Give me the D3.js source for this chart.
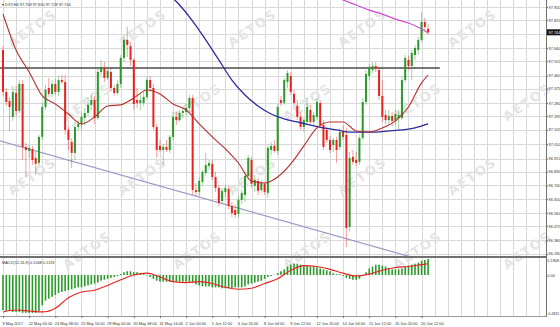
<!DOCTYPE html>
<html>
<head>
<meta charset="utf-8">
<script src="https://cdn.jsdelivr.net/npm/d3@7"></script>
<style>
body { margin: 0; background: #fff; }
svg { display: block; font-family: "Liberation Sans", sans-serif; }
</style>
</head>
<body>
<div id="chart"></div>
<script>
// DXY H4 candles (bar index = position in the arrays)
var opens = [97.628,97.353,97.294,97.189,97.346,97.228,97.405,96.992,96.966,96.979,
  96.920,96.887,97.058,97.254,97.379,97.340,97.405,97.353,97.431,97.418,
  97.104,97.025,96.953,97.123,97.143,97.182,97.215,97.268,97.300,97.182,
  97.484,97.510,97.445,97.484,97.379,97.346,97.405,97.576,97.694,97.654,
  97.563,97.300,97.281,97.281,97.320,97.431,97.379,97.123,96.999,96.972,
  96.992,96.972,97.058,97.189,97.169,97.215,97.222,97.248,97.313,96.710,
  96.697,96.763,96.822,96.868,96.881,96.795,96.723,96.638,96.697,96.717,
  96.605,96.579,96.553,96.645,96.677,96.802,96.907,96.736,96.769,96.710,
  96.750,96.691,96.972,96.999,96.966,97.300,97.281,97.418,97.458,97.340,
  97.261,97.189,97.123,97.156,97.235,97.156,97.189,97.281,97.136,97.104,
  97.038,97.005,97.038,96.992,97.090,97.071,96.468,96.927,96.907,96.894,
  97.051,97.287,97.458,97.497,97.523,97.497,97.327,97.202,97.169,97.195,
  97.163,97.182,97.182,97.431,97.563,97.523,97.595,97.628,97.694,97.812,
  97.768];
var highs = [97.654,97.379,97.320,97.392,97.392,97.431,97.431,97.018,97.005,96.999,
  96.959,97.071,97.281,97.399,97.445,97.431,97.438,97.458,97.464,97.464,
  97.123,97.051,97.156,97.169,97.215,97.248,97.320,97.333,97.327,97.510,
  97.563,97.549,97.510,97.510,97.399,97.431,97.595,97.727,97.779,97.681,
  97.576,97.379,97.340,97.353,97.451,97.458,97.405,97.143,97.038,97.012,
  97.038,97.071,97.222,97.222,97.235,97.248,97.274,97.333,97.333,96.756,
  96.789,96.841,96.953,96.907,96.907,96.828,96.743,96.723,96.743,96.736,
  96.631,96.612,96.671,96.710,96.828,96.940,96.927,96.808,96.789,96.776,
  96.763,97.005,97.025,97.038,97.274,97.327,97.445,97.497,97.484,97.366,
  97.300,97.222,97.182,97.313,97.268,97.222,97.313,97.300,97.169,97.123,
  97.064,97.051,97.058,97.117,97.136,97.117,96.959,96.972,96.959,97.071,
  97.313,97.497,97.536,97.549,97.549,97.517,97.431,97.235,97.235,97.222,
  97.235,97.235,97.458,97.595,97.589,97.628,97.661,97.713,97.877,97.838,
  97.800];
var lows = [97.327,97.261,97.097,97.163,97.195,97.215,96.907,96.795,96.920,96.874,
  96.808,96.868,97.038,97.235,97.320,97.320,97.333,97.327,97.405,97.071,
  96.972,96.854,96.907,97.097,97.104,97.136,97.195,97.235,97.143,97.169,
  97.458,97.418,97.431,97.353,97.327,97.333,97.379,97.549,97.582,97.523,
  97.235,97.248,97.235,97.261,97.307,97.353,97.104,96.920,96.959,96.874,
  96.959,96.953,97.038,97.136,97.156,97.182,97.202,97.222,96.677,96.671,
  96.671,96.743,96.802,96.841,96.776,96.697,96.605,96.618,96.658,96.586,
  96.533,96.527,96.527,96.618,96.631,96.776,96.723,96.697,96.677,96.691,
  96.677,96.658,96.940,96.953,96.940,97.261,97.268,97.379,97.333,97.268,
  97.169,97.104,97.090,97.136,97.143,97.130,97.169,97.117,96.972,97.018,
  96.953,96.959,96.887,96.972,97.038,96.336,96.435,96.874,96.868,96.874,
  97.038,97.268,97.431,97.477,97.484,97.300,97.156,97.143,97.143,97.130,
  97.136,97.104,97.169,97.418,97.497,97.431,97.563,97.595,97.681,97.759,
  97.728];
var closes = [97.353,97.287,97.254,97.353,97.228,97.405,96.992,96.972,96.986,96.907,
  96.881,97.058,97.254,97.366,97.340,97.405,97.353,97.431,97.418,97.104,
  97.038,96.953,97.123,97.143,97.189,97.215,97.268,97.300,97.182,97.484,
  97.517,97.445,97.490,97.379,97.346,97.405,97.576,97.694,97.661,97.563,
  97.274,97.281,97.300,97.320,97.431,97.379,97.123,96.972,96.972,96.992,
  96.972,97.058,97.189,97.169,97.215,97.228,97.248,97.313,96.710,96.697,
  96.769,96.828,96.874,96.887,96.795,96.723,96.625,96.704,96.723,96.605,
  96.559,96.546,96.645,96.691,96.802,96.920,96.750,96.776,96.704,96.756,
  96.697,96.986,96.999,96.966,97.254,97.281,97.431,97.477,97.353,97.281,
  97.189,97.123,97.169,97.254,97.156,97.202,97.287,97.136,96.992,97.038,
  96.972,97.038,96.972,97.090,97.058,96.461,96.920,96.894,96.887,97.051,
  97.287,97.471,97.510,97.523,97.504,97.327,97.189,97.169,97.195,97.163,
  97.208,97.202,97.431,97.576,97.523,97.609,97.641,97.694,97.812,97.779,
  97.744];

// moving averages, sampled at these bars
var redMaBars = [0,4,8,12,16,20,24,28,32,36,40,44,48,52,56,60,64,68,72,76,80,84,88,92,96,100,104,108,112,116,120,124,128,130];
var redMa = [97.864,97.628,97.484,97.327,97.274,97.208,97.143,97.189,97.261,97.268,97.313,97.366,97.340,97.274,97.235,97.143,97.058,96.979,96.887,96.769,96.756,96.795,96.881,96.999,97.117,97.156,97.156,97.097,97.090,97.117,97.163,97.254,97.412,97.464];
var blueMaBars = [50,54,58,62,66,70,74,78,82,86,90,94,98,102,106,110,114,118,122,126,130];
var blueMa = [98.008,97.923,97.818,97.694,97.563,97.431,97.333,97.261,97.208,97.176,97.156,97.136,97.117,97.104,97.090,97.090,97.090,97.097,97.104,97.117,97.143];
var pinkMaBars = [100,104,108,112,116,120,124,128,130];
var pinkMa = [97.995,97.956,97.923,97.890,97.864,97.831,97.805,97.766,97.740];

// hand drawn lines: [bar, price]
var resistance = [[-1, 97.51], [133.6, 97.51]];
var trendLine = [[-1, 97.032], [130, 96.239]];

// MACD(12,26,9)
var macdHist = [-0.37,-0.38,-0.38,-0.39,-0.39,-0.39,-0.40,-0.40,-0.40,-0.40,
  -0.40,-0.38,-0.32,-0.27,-0.25,-0.23,-0.21,-0.19,-0.18,-0.17,
  -0.16,-0.15,-0.14,-0.13,-0.13,-0.12,-0.11,-0.10,-0.09,-0.08,
  -0.06,-0.05,-0.04,-0.03,-0.02,-0.01,0.01,0.03,0.04,0.04,
  0.03,0.03,0.02,0.01,-0.005,-0.02,-0.04,-0.06,-0.07,-0.07,
  -0.07,-0.07,-0.07,-0.07,-0.07,-0.07,-0.07,-0.07,-0.08,-0.10,
  -0.11,-0.12,-0.12,-0.12,-0.13,-0.13,-0.13,-0.14,-0.14,-0.14,
  -0.14,-0.13,-0.13,-0.13,-0.12,-0.10,-0.09,-0.08,-0.07,-0.06,
  -0.04,-0.02,-0.01,0.005,0.02,0.04,0.06,0.09,0.11,0.12,
  0.12,0.11,0.10,0.10,0.09,0.09,0.08,0.07,0.06,0.05,
  0.04,0.02,0.01,0.01,-0.01,-0.03,-0.04,-0.05,-0.05,-0.04,
  -0.01,0.03,0.07,0.09,0.11,0.11,0.10,0.09,0.07,0.06,
  0.06,0.06,0.07,0.09,0.10,0.11,0.12,0.13,0.15,0.16,
  0.17];
var signalBars = redMaBars;
var macdSignal = [-0.39,-0.37,-0.38,-0.39,-0.35,-0.24,-0.18,-0.16,-0.11,-0.05,0.00,0.02,-0.02,-0.07,-0.08,-0.07,-0.09,-0.13,-0.15,-0.14,-0.09,-0.04,0.05,0.10,0.09,0.06,0.02,-0.01,0.01,0.05,0.08,0.09,0.11,0.12];

var gridPrices = [97.910,97.825,97.735,97.640,97.555,97.460,97.375,97.280,97.195,97.105,97.010,96.915,96.830,96.740,96.650,96.560,96.475,96.380,96.290];
// 97.735 sits under the current price tag, so it gets no label
var priceTicks = [97.910,97.825,97.640,97.555,97.460,97.375,97.280,97.195,97.105,97.010,96.915,96.830,96.740,96.650,96.560,96.475,96.380,96.290];
var macdTicks = [0.1908, 0, -0.4331];
var macdTickText = ["0.1908", "0.00", "-0.4331"];
var timeBars = [0,8,16,24,32,40,48,56,64,72,80,88,96,104,112,120,128];
var timeLabels = ["9 May 2017","22 May 00:00","24 May 08:00","25 May 16:00","29 May 00:00","30 May 08:00",
  "31 May 16:00","2 Jun 00:00","5 Jun 12:00","6 Jun 20:00","8 Jun 04:00","9 Jun 12:00",
  "12 Jun 20:00","14 Jun 04:00","15 Jun 12:00","16 Jun 20:00","20 Jun 12:00"];
var lastPrice = 97.744;

var width = 560, height = 327;
var plotRight = 546, mainBottom = 256, macdTop = 258, macdBottom = 316;
var green = "#2a9a2a", red = "#e8231f";
var fontSize = 3.9;

var x = d3.scaleLinear().domain([0, 130]).range([3, 428.1]);
var y = d3.scaleLinear().domain([96.29, 97.91]).range([254, 7]);
var ym = d3.scaleLinear().domain([-0.4331, 0.1908]).range([316, 257]);

var svg = d3.select("#chart").append("svg")
    .attr("width", width)
    .attr("height", height);

svg.append("rect").attr("width", width).attr("height", height).attr("fill", "#fff");

var defs = svg.append("defs");
defs.append("clipPath").attr("id", "clipMain")
    .append("rect").attr("x", 0).attr("y", 0).attr("width", plotRight).attr("height", mainBottom);
defs.append("clipPath").attr("id", "clipMacd")
    .append("rect").attr("x", 0).attr("y", macdTop).attr("width", plotRight).attr("height", macdBottom - macdTop);

// grid
var gridBars = d3.range(0, 168, 4);
var grid = svg.append("g").attr("stroke", "#d9d9d9").attr("stroke-width", 1).attr("shape-rendering", "crispEdges");
grid.selectAll("line.v")
    .data(gridBars)
    .enter().append("line")
    .attr("x1", function(d) { return Math.round(x(d)) + 0.5; })
    .attr("x2", function(d) { return Math.round(x(d)) + 0.5; })
    .attr("y1", 0)
    .attr("y2", macdBottom);
grid.selectAll("line.h")
    .data(gridPrices)
    .enter().append("line")
    .attr("x1", 0)
    .attr("x2", plotRight)
    .attr("y1", function(d) { return Math.round(y(d)) + 0.5; })
    .attr("y2", function(d) { return Math.round(y(d)) + 0.5; });

// watermark, kept inside the picture
var marks = [];
[48, 122, 196, 270].forEach(function(wy, r) {
    for (var c = 0; c < 5; c++) {
        var wx = 12 + c * 110 + (r % 2) * 55;
        if (wx + 50 < width) marks.push([wx, wy]);
    }
});
svg.append("g").selectAll("text")
    .data(marks)
    .enter().append("text")
    .attr("transform", function(d) { return "translate(" + d[0] + "," + d[1] + ") rotate(-35)"; })
    .attr("font-size", 13)
    .attr("font-family", "DejaVu Sans")
    .attr("font-weight", "bold")
    .attr("letter-spacing", 1.5)
    .attr("fill", "#e4e4e4")
    .text("AETOS");

var main = svg.append("g").attr("clip-path", "url(#clipMain)");

var priceLine = d3.line()
    .x(function(d) { return x(d[0]); })
    .y(function(d) { return y(d[1]); });
var smooth = d3.line()
    .curve(d3.curveMonotoneX)
    .x(function(d) { return x(d[0]); })
    .y(function(d) { return y(d[1]); });

main.append("path")
    .datum(trendLine)
    .attr("fill", "none")
    .attr("stroke", "#9a9ac8")
    .attr("stroke-width", 1.2)
    .attr("d", priceLine);

main.append("path")
    .datum(resistance)
    .attr("fill", "none")
    .attr("stroke", "#4a4a4a")
    .attr("stroke-width", 1.4)
    .attr("d", priceLine);

// candles
var bars = d3.range(opens.length);
var candles = main.append("g");
candles.selectAll("line")
    .data(bars)
    .enter().append("line")
    .attr("x1", function(i) { return x(i); })
    .attr("x2", function(i) { return x(i); })
    .attr("y1", function(i) { return y(highs[i]); })
    .attr("y2", function(i) { return y(lows[i]); })
    .attr("stroke", function(i) { return closes[i] >= opens[i] ? green : red; })
    .attr("stroke-opacity", 0.55)
    .attr("stroke-width", 0.8);
candles.selectAll("rect")
    .data(bars)
    .enter().append("rect")
    .attr("x", function(i) { return x(i) - 1; })
    .attr("width", 2)
    .attr("y", function(i) { return y(Math.max(opens[i], closes[i])); })
    .attr("height", function(i) { return Math.max(0.8, Math.abs(y(opens[i]) - y(closes[i]))); })
    .attr("fill", function(i) { return closes[i] >= opens[i] ? green : red; });

function zipped(b, v) { return b.map(function(d, i) { return [d, v[i]]; }); }

main.append("path")
    .datum(zipped(blueMaBars, blueMa))
    .attr("fill", "none")
    .attr("stroke", "#2b2b9c")
    .attr("stroke-width", 1.3)
    .attr("d", smooth);
main.append("path")
    .datum(zipped(pinkMaBars, pinkMa))
    .attr("fill", "none")
    .attr("stroke", "#d24fd2")
    .attr("stroke-width", 1.3)
    .attr("d", smooth);
main.append("path")
    .datum(zipped(redMaBars, redMa))
    .attr("fill", "none")
    .attr("stroke", "#b3302c")
    .attr("stroke-width", 1.1)
    .attr("d", smooth);

// MACD panel
var macd = svg.append("g").attr("clip-path", "url(#clipMacd)");
macd.selectAll("rect")
    .data(bars)
    .enter().append("rect")
    .attr("x", function(i) { return x(i) - 0.8; })
    .attr("width", 1.6)
    .attr("y", function(i) { return Math.min(ym(0), ym(macdHist[i])); })
    .attr("height", function(i) { return Math.abs(ym(macdHist[i]) - ym(0)); })
    .attr("fill", green);
macd.append("path")
    .datum(zipped(signalBars, macdSignal))
    .attr("fill", "none")
    .attr("stroke", red)
    .attr("stroke-width", 1.1)
    .attr("d", d3.line().curve(d3.curveMonotoneX)
        .x(function(d) { return x(d[0]); })
        .y(function(d) { return ym(d[1]); }));

// frames
svg.append("rect").attr("x", 0).attr("y", mainBottom).attr("width", plotRight).attr("height", 2).attr("fill", "#707070");
svg.append("line").attr("x1", 0).attr("x2", plotRight).attr("y1", macdBottom + 0.5).attr("y2", macdBottom + 0.5)
    .attr("stroke", "#9a9a9a");
svg.append("line").attr("x1", plotRight + 0.5).attr("x2", plotRight + 0.5).attr("y1", 0).attr("y2", macdBottom)
    .attr("stroke", "#707070");

// right axes
var yAxis = d3.axisRight(y).tickValues(priceTicks).tickFormat(d3.format(".3f")).tickSize(2);
var gy = svg.append("g").attr("transform", "translate(" + plotRight + ",0)").call(yAxis);
var mAxis = d3.axisRight(ym).tickValues(macdTicks).tickFormat(function(d, i) { return macdTickText[i]; }).tickSize(1);
var gm = svg.append("g").attr("transform", "translate(" + plotRight + ",0)").call(mAxis);
[gy, gm].forEach(function(g) {
    g.select(".domain").remove();
    g.selectAll("line").attr("stroke", "#707070");
    g.selectAll("text").attr("font-size", fontSize).attr("fill", "#333").attr("x", 2.5)
        .attr("font-family", "Liberation Sans");
});
// top and bottom MACD labels sit just inside the panel
gm.selectAll("text")
    .attr("x", 1.3)
    .attr("font-size", function(d) { return d < 0 ? 3.5 : fontSize; })
    .attr("dy", function(d) { return d > 0 ? "1.2em" : (d < 0 ? "-0.3em" : "0.32em"); });
gy.selectAll("text").attr("dy", function(d) { return d < 96.3 ? "0.1em" : "0.32em"; });

// current price tag
svg.append("rect").attr("x", plotRight + 1).attr("y", y(lastPrice) - 3).attr("width", 13).attr("height", 6).attr("fill", "#111");
svg.append("text").attr("x", plotRight + 2.5).attr("y", y(lastPrice) + 1.4)
    .attr("font-size", fontSize).attr("fill", "#fff").text(d3.format(".3f")(lastPrice));

// time axis
var xAxis = d3.axisBottom(x).tickValues(timeBars).tickFormat(function(d, i) { return timeLabels[i]; }).tickSize(2);
var gx = svg.append("g").attr("transform", "translate(0," + macdBottom + ")").call(xAxis);
gx.select(".domain").remove();
gx.selectAll("line").attr("stroke", "#707070");
gx.selectAll("text")
    .attr("font-size", fontSize)
    .attr("fill", "#333")
    .attr("text-anchor", "start")
    .attr("x", -1)
    .attr("dy", "0.9em")
    .attr("font-family", "Liberation Sans");

// panel captions
svg.append("text").attr("x", 2).attr("y", 5.5).attr("font-size", fontSize).attr("fill", "#333")
    .text("\u25BE DXY,H4  97.768 97.800 97.728 97.744");
svg.append("text").attr("x", 2).attr("y", 264).attr("font-size", fontSize).attr("fill", "#333")
    .text("MACD(12,26,9) 0.1068 0.1118");
</script>
</body>
</html>
